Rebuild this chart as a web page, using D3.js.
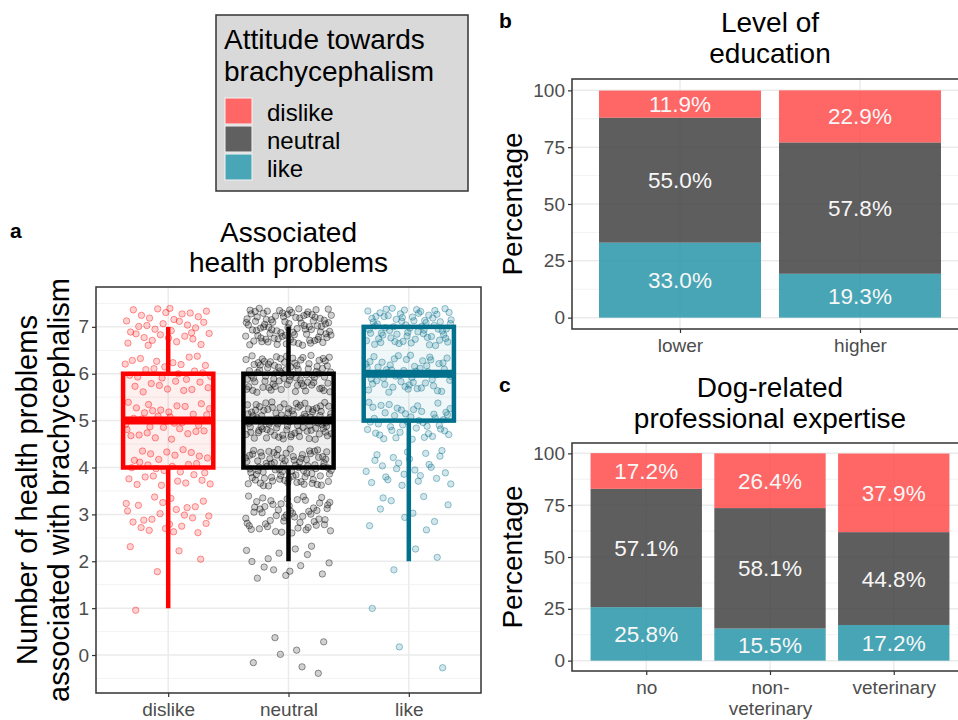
<!DOCTYPE html>
<html>
<head>
<meta charset="utf-8">
<script src="https://cdn.jsdelivr.net/npm/d3@7"></script>
<style>
  body { margin: 0; background: #fff; }
  svg text { font-family: "Liberation Sans", Arial, sans-serif; }
</style>
</head>
<body>
<div id="chart"></div>
<script>
// Data
var attitudes = ["dislike", "neutral", "like"];
var healthLevels = [0, 1, 2, 3, 4, 5, 6, 7];
// number of respondents per count of health problems, per attitude group
var dislikeCounts = [0, 1, 4, 25, 30, 35, 30, 35];
var neutralCounts = [7, 0, 15, 55, 85, 95, 85, 90];
var likeCounts = [2, 1, 3, 10, 25, 45, 55, 70];

var educationCats = ["lower", "higher"];
var eduLike = [33.0, 19.3];
var eduNeutral = [55.0, 57.8];
var eduDislike = [11.9, 22.9];

var expertiseCats = ["no", "non-\nveterinary", "veterinary"];
var expLike = [25.8, 15.5, 17.2];
var expNeutral = [57.1, 58.1, 44.8];
var expDislike = [17.2, 26.4, 37.9];

var healthTicks = [0, 1, 2, 3, 4, 5, 6, 7];
var pctTicks = [0, 25, 50, 75, 100];

// Colours
var barColor = { dislike: "#FF4B4B", neutral: "#424242", like: "#2795A8" };
var keyColor = { dislike: "#FF6666", neutral: "#606060", like: "#48A6B6" };
var boxColor = { dislike: "#FF0000", neutral: "#000000", like: "#00708C" };

var svg = d3.select("#chart").append("svg")
  .attr("width", 958)
  .attr("height", 720);

// ---------- helpers ----------
function grid(g, x, y, xVals, yMajor, yMinor, left, right, top, bottom) {
  g.selectAll(".ymin").data(yMinor).enter().append("line")
    .attr("x1", left).attr("x2", right)
    .attr("y1", d => y(d)).attr("y2", d => y(d))
    .attr("stroke", "#F3F3F3").attr("stroke-width", 1);
  g.selectAll(".ymaj").data(yMajor).enter().append("line")
    .attr("x1", left).attr("x2", right)
    .attr("y1", d => y(d)).attr("y2", d => y(d))
    .attr("stroke", "#EBEBEB").attr("stroke-width", 1.5);
  g.selectAll(".xmaj").data(xVals).enter().append("line")
    .attr("x1", d => x(d)).attr("x2", d => x(d))
    .attr("y1", top).attr("y2", bottom)
    .attr("stroke", "#EBEBEB").attr("stroke-width", 1.5);
}

function styleAxis(ax) {
  ax.select(".domain").remove();
  ax.selectAll(".tick line").attr("stroke", "#333333").attr("stroke-width", 1.2);
  ax.selectAll(".tick text").attr("fill", "#4D4D4D").attr("font-size", "19px");
}

function border(g, left, right, top, bottom) {
  g.append("rect")
    .attr("x", left).attr("y", top)
    .attr("width", right - left).attr("height", bottom - top)
    .attr("fill", "none").attr("stroke", "#333333").attr("stroke-width", 1.5);
}

function halton(i, b) {
  var f = 1, r = 0;
  while (i > 0) { f /= b; r += f * (i % b); i = Math.floor(i / b); }
  return r;
}

// ---------- Legend ----------
var leg = svg.append("g");
leg.append("rect")
  .attr("x", 216).attr("y", 15).attr("width", 252).attr("height", 176)
  .attr("fill", "#D9D9D9").attr("stroke", "#333333").attr("stroke-width", 1.5);
leg.append("text").attr("x", 224).attr("y", 49).attr("font-size", "28px").text("Attitude towards");
leg.append("text").attr("x", 224).attr("y", 81).attr("font-size", "28px").text("brachycephalism");
attitudes.forEach(function(a, i) {
  leg.append("rect")
    .attr("x", 225).attr("y", 98 + i * 28).attr("width", 27).attr("height", 26)
    .attr("fill", keyColor[a]).attr("stroke", "#F4F4F4").attr("stroke-width", 1);
  leg.append("text")
    .attr("x", 267).attr("y", 121 + i * 28)
    .attr("font-size", "24px").text(a);
});

// ---------- Panel a: boxplot ----------
var pa = { left: 96, right: 481, top: 287, bottom: 693 };
var ga = svg.append("g");

var xA = d3.scalePoint().domain(attitudes).range([pa.left, pa.right]).padding(0.6);
var yA = d3.scaleLinear().domain([-0.81, 7.85]).range([pa.bottom, pa.top]);
var stepA = xA.step();

grid(ga, xA, yA, attitudes, healthTicks, d3.range(-0.5, 8, 1), pa.left, pa.right, pa.top, pa.bottom);

var countsBy = { dislike: dislikeCounts, neutral: neutralCounts, like: likeCounts };

// expand counts into individual answers, with jitter offsets for display
var points = [];
attitudes.forEach(function(a, gi) {
  var n = 0;
  healthLevels.forEach(function(v, vi) {
    for (var k = 0; k < countsBy[a][vi]; k++) {
      n++;
      var idx = n + 17 * gi + 3;
      points.push({
        group: a,
        value: v,
        jx: (halton(idx, 2) * 2 - 1) * 0.36,
        jy: (halton(idx, 3) * 2 - 1) * 0.4
      });
    }
  });
});

ga.append("g").selectAll("circle")
  .data(points)
  .enter()
  .append("circle")
  .attr("cx", d => xA(d.group) + d.jx * stepA)
  .attr("cy", d => yA(d.value + d.jy))
  .attr("r", 3.2)
  .attr("fill", d => boxColor[d.group])
  .attr("fill-opacity", 0.18)
  .attr("stroke", d => boxColor[d.group])
  .attr("stroke-opacity", 0.4)
  .attr("stroke-width", 1);

// box statistics from the expanded data
var boxes = attitudes.map(function(a) {
  var vals = points.filter(p => p.group === a).map(p => p.value).sort(d3.ascending);
  var q1 = d3.quantile(vals, 0.25), med = d3.quantile(vals, 0.5), q3 = d3.quantile(vals, 0.75);
  var iqr = q3 - q1;
  var lo = d3.min(vals.filter(v => v >= q1 - 1.5 * iqr));
  var hi = d3.max(vals.filter(v => v <= q3 + 1.5 * iqr));
  return { group: a, q1: q1, med: med, q3: q3, lo: lo, hi: hi };
});

var boxW = stepA * 0.75;
var bx = ga.append("g").selectAll("g").data(boxes).enter().append("g");
bx.append("line")
  .attr("x1", d => xA(d.group)).attr("x2", d => xA(d.group))
  .attr("y1", d => yA(d.hi)).attr("y2", d => yA(d.q3))
  .attr("stroke", d => boxColor[d.group]).attr("stroke-width", 4.5);
bx.append("line")
  .attr("x1", d => xA(d.group)).attr("x2", d => xA(d.group))
  .attr("y1", d => yA(d.q1)).attr("y2", d => yA(d.lo))
  .attr("stroke", d => boxColor[d.group]).attr("stroke-width", 4.5);
bx.append("rect")
  .attr("x", d => xA(d.group) - boxW / 2)
  .attr("y", d => yA(d.q3))
  .attr("width", boxW)
  .attr("height", d => yA(d.q1) - yA(d.q3))
  .attr("fill", d => boxColor[d.group]).attr("fill-opacity", 0.06)
  .attr("stroke", d => boxColor[d.group]).attr("stroke-width", 4.5);
bx.append("line")
  .attr("x1", d => xA(d.group) - boxW / 2).attr("x2", d => xA(d.group) + boxW / 2)
  .attr("y1", d => yA(d.med)).attr("y2", d => yA(d.med))
  .attr("stroke", d => boxColor[d.group]).attr("stroke-width", 8);

border(ga, pa.left, pa.right, pa.top, pa.bottom);

var axA = ga.append("g").attr("transform", `translate(${pa.left},0)`)
  .call(d3.axisLeft(yA).tickValues(healthTicks).tickSize(4).tickPadding(3));
styleAxis(axA);
var axAx = ga.append("g").attr("transform", `translate(0,${pa.bottom})`)
  .call(d3.axisBottom(xA).tickSize(4).tickPadding(6));
styleAxis(axAx);

ga.append("text").attr("x", 10).attr("y", 238)
  .attr("font-size", "21px").attr("font-weight", "bold").text("a");
ga.append("text").attr("x", (pa.left + pa.right) / 2).attr("y", 242)
  .attr("text-anchor", "middle").attr("font-size", "28px").text("Associated");
ga.append("text").attr("x", (pa.left + pa.right) / 2).attr("y", 272)
  .attr("text-anchor", "middle").attr("font-size", "28px").text("health problems");
ga.append("text")
  .attr("transform", `translate(37,${(pa.top + pa.bottom) / 2}) rotate(-90)`)
  .attr("text-anchor", "middle").attr("font-size", "29px")
  .text("Number of health problems");
ga.append("text")
  .attr("transform", `translate(69,${(pa.top + pa.bottom) / 2}) rotate(-90)`)
  .attr("text-anchor", "middle").attr("font-size", "29px")
  .text("associated with brachycephalism");

// ---------- stacked bar panels ----------
function barPanel(opts) {
  var p = opts.box;
  var g = svg.append("g");
  var x = d3.scalePoint().domain(opts.cats).range([p.left, p.right]).padding(0.6);
  var y = d3.scaleLinear().domain([-5, 105]).range([p.bottom, p.top]);
  var bw = x.step() * 0.9;

  grid(g, x, y, opts.cats, pctTicks, [12.5, 37.5, 62.5, 87.5], p.left, p.right, p.top, p.bottom);

  var rows = opts.cats.map(function(c, i) {
    return { cat: c, like: opts.like[i], neutral: opts.neutral[i], dislike: opts.dislike[i] };
  });
  var series = d3.stack().keys(["like", "neutral", "dislike"])(rows);

  series.forEach(function(s) {
    var sg = g.append("g");
    sg.selectAll("rect").data(s).enter().append("rect")
      .attr("x", d => x(d.data.cat) - bw / 2)
      .attr("y", d => y(d[1]))
      .attr("width", bw)
      .attr("height", d => y(d[0]) - y(d[1]))
      .attr("fill", barColor[s.key])
      .attr("fill-opacity", 0.85);
    sg.selectAll("text").data(s).enter().append("text")
      .attr("x", d => x(d.data.cat))
      .attr("y", d => y((d[0] + d[1]) / 2))
      .attr("dy", "0.36em")
      .attr("text-anchor", "middle")
      .attr("font-size", "22.5px")
      .attr("fill", "#F7F7F7")
      .text(d => d.data[s.key].toFixed(1) + "%");
  });

  border(g, p.left, p.right, p.top, p.bottom);

  var ay = g.append("g").attr("transform", `translate(${p.left},0)`)
    .call(d3.axisLeft(y).tickValues(pctTicks).tickSize(4).tickPadding(3));
  styleAxis(ay);
  var ax = g.append("g").attr("transform", `translate(0,${p.bottom})`)
    .call(d3.axisBottom(x).tickSize(4).tickPadding(6).tickFormat(""));
  styleAxis(ax);
  // tick labels, allowing two lines
  ax.selectAll(".tick").each(function(d) {
    var t = d3.select(this).append("text")
      .attr("fill", "#4D4D4D").attr("font-size", "19px")
      .attr("text-anchor", "middle").attr("y", 23);
    d.split("\n").forEach(function(line, li) {
      t.append("tspan").attr("x", 0).attr("dy", li === 0 ? 0 : 21).text(line);
    });
  });

  g.append("text").attr("x", 499).attr("y", opts.letterY)
    .attr("font-size", "21px").attr("font-weight", "bold").text(opts.letter);
  opts.title.forEach(function(line, i) {
    g.append("text").attr("x", (p.left + p.right) / 2).attr("y", opts.titleY + i * 31)
      .attr("text-anchor", "middle").attr("font-size", "28px").text(line);
  });
  g.append("text")
    .attr("transform", `translate(522,${(p.top + p.bottom) / 2}) rotate(-90)`)
    .attr("text-anchor", "middle").attr("font-size", "28px")
    .text("Percentage");
}

barPanel({
  box: { left: 572, right: 968, top: 79, bottom: 329 },
  cats: educationCats, like: eduLike, neutral: eduNeutral, dislike: eduDislike,
  letter: "b", letterY: 28, title: ["Level of", "education"], titleY: 32
});

barPanel({
  box: { left: 572, right: 968, top: 443, bottom: 671 },
  cats: expertiseCats, like: expLike, neutral: expNeutral, dislike: expDislike,
  letter: "c", letterY: 392, title: ["Dog-related", "professional expertise"], titleY: 397
});
</script>
</body>
</html>
